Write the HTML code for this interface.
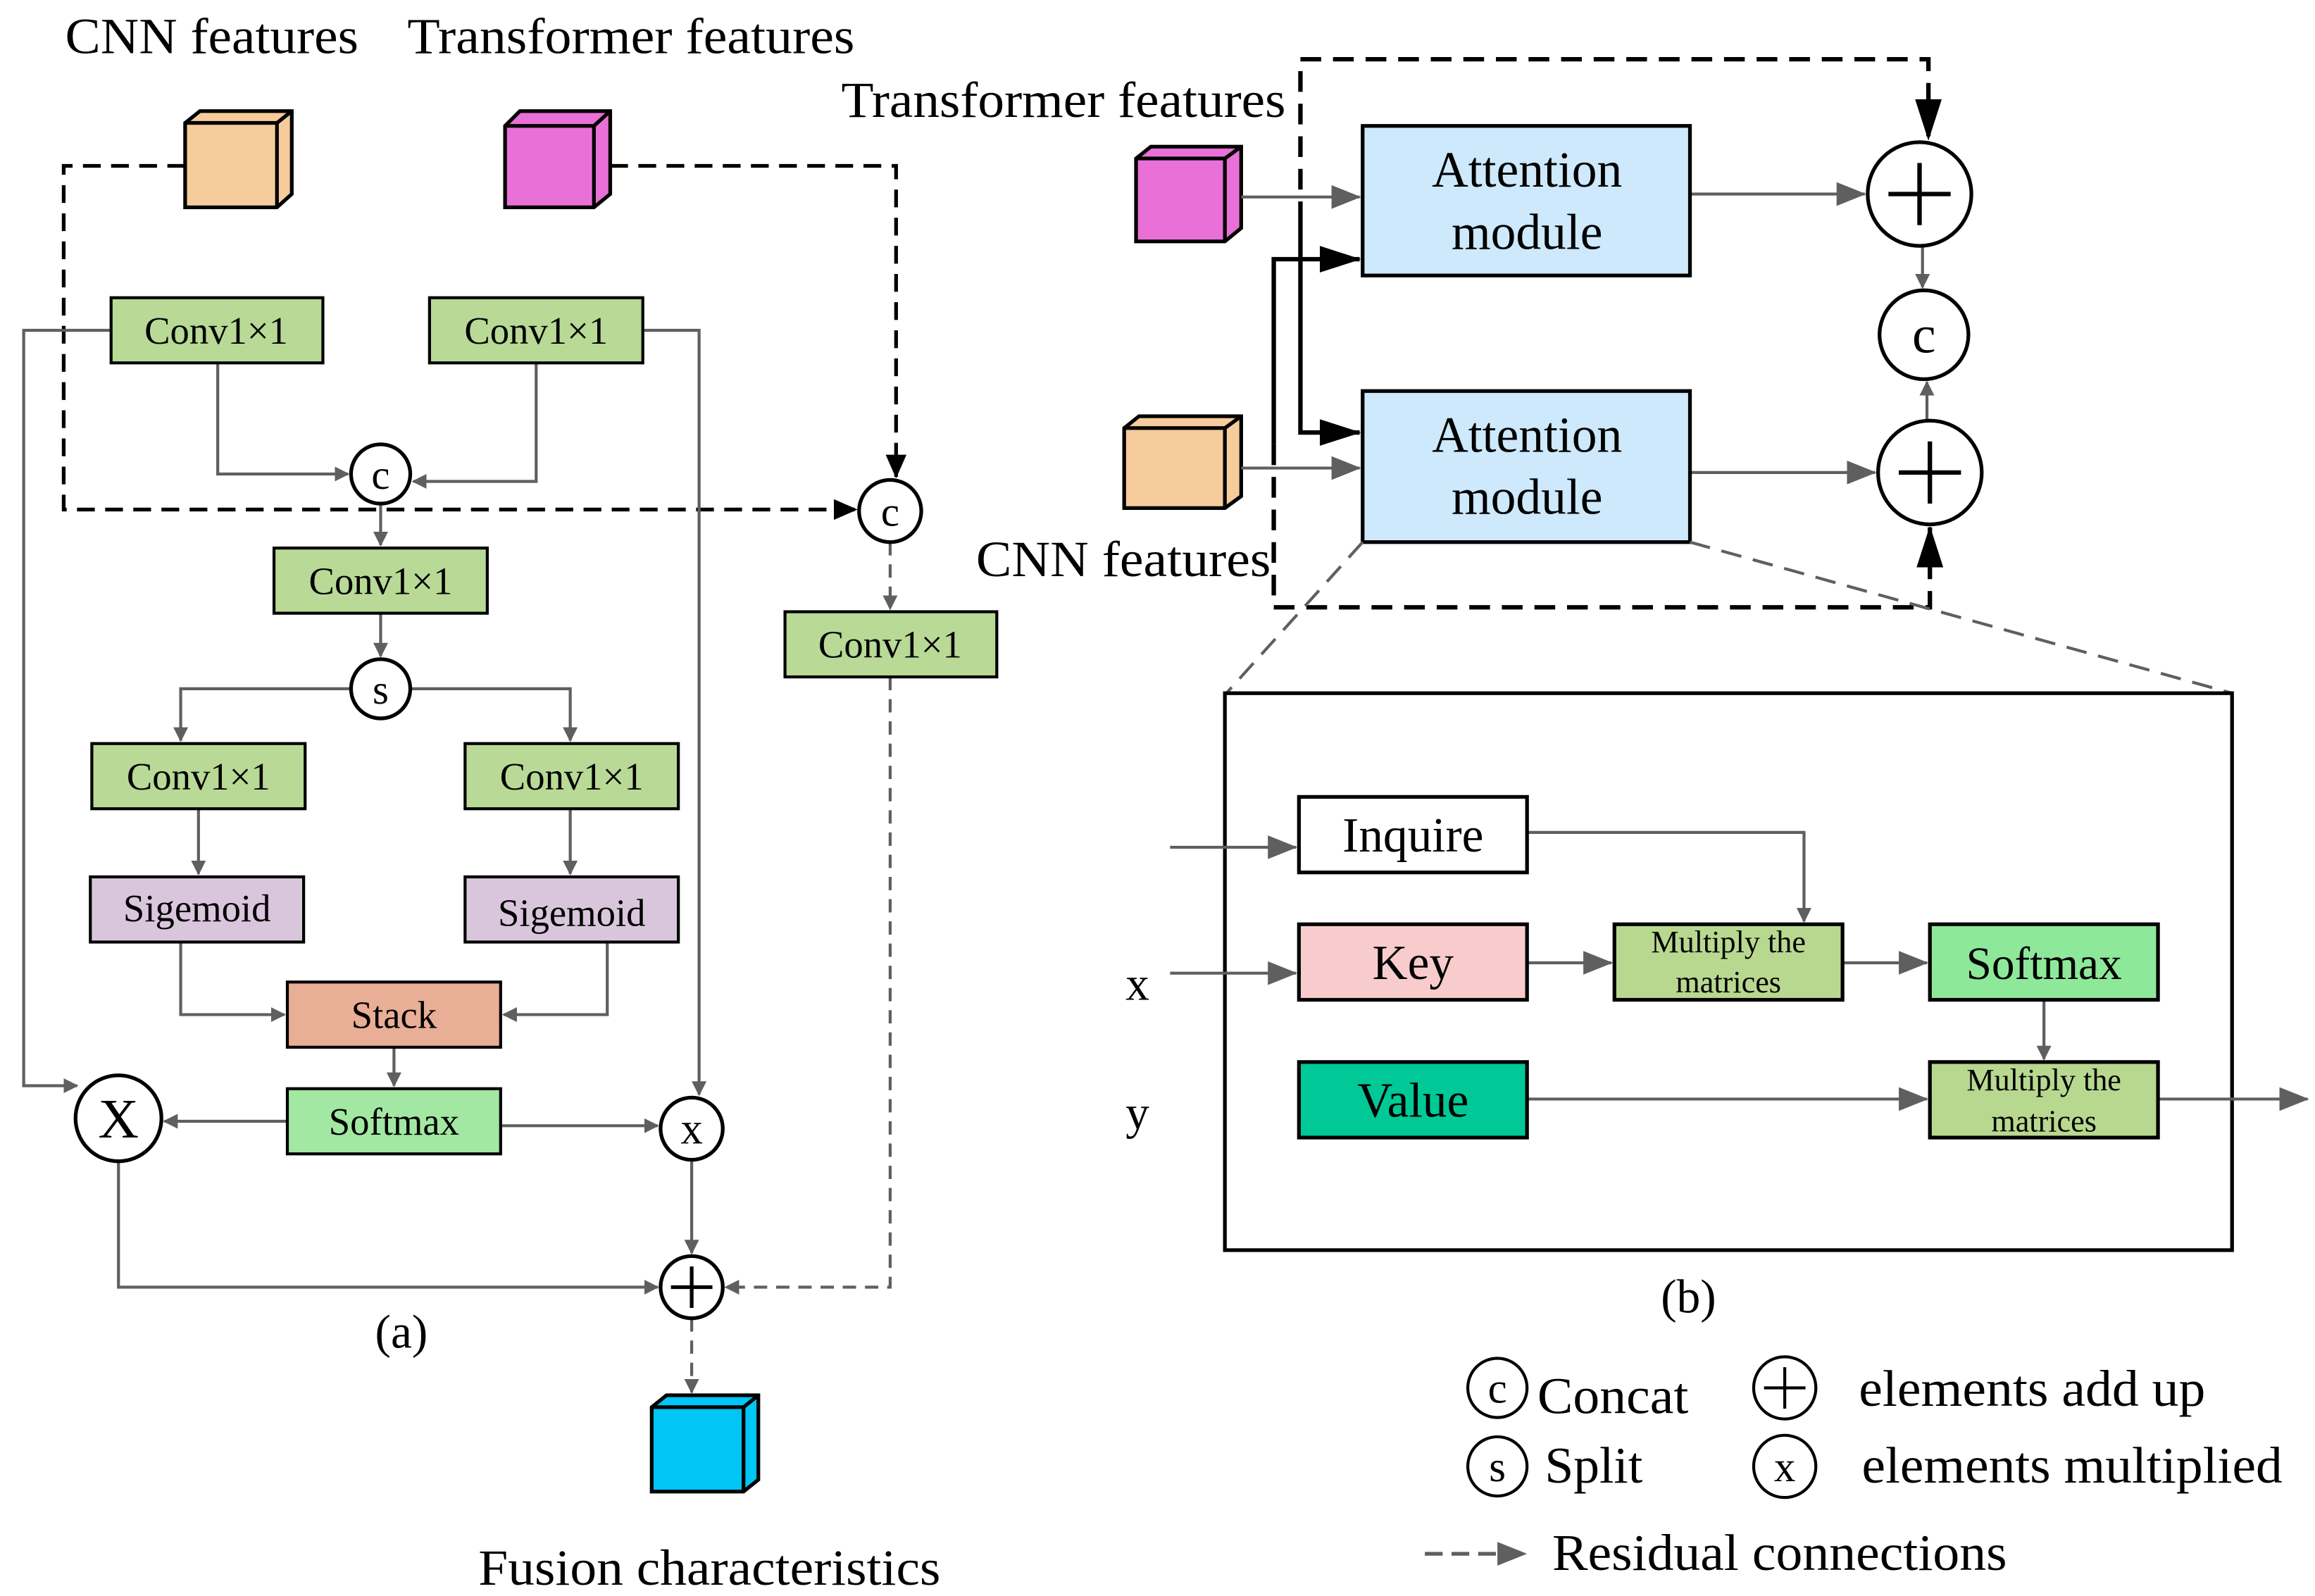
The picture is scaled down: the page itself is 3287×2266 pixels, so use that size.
<!DOCTYPE html>
<html><head><meta charset="utf-8"><style>
html,body{margin:0;padding:0;background:#fff;}
svg{display:block;}
text{font-family:"Liberation Serif",serif;fill:#000;}
</style></head><body>
<svg width="3287" height="2266" viewBox="0 0 1563 1077.5" preserveAspectRatio="none" xmlns="http://www.w3.org/2000/svg">
<defs>
<marker id="g" markerWidth="10" markerHeight="10" refX="9" refY="5" orient="auto" markerUnits="userSpaceOnUse" viewBox="0 0 10 10"><path d="M0,0 L10,5 L0,10 z" fill="#5f5f5f"/></marker>
<marker id="gb" markerWidth="20" markerHeight="16" refX="19" refY="8" orient="auto" markerUnits="userSpaceOnUse" viewBox="0 0 20 16"><path d="M0,0 L20,8 L0,16 z" fill="#5f5f5f"/></marker>
<marker id="k" markerWidth="16" markerHeight="14" refX="15" refY="7" orient="auto" markerUnits="userSpaceOnUse" viewBox="0 0 16 14"><path d="M0,0 L16,7 L0,14 z" fill="#000"/></marker>
<marker id="kb" markerWidth="28" markerHeight="18" refX="27" refY="9" orient="auto" markerUnits="userSpaceOnUse" viewBox="0 0 28 18"><path d="M0,0 L28,9 L0,18 z" fill="#000"/></marker>
</defs>

<text x="44" y="36" font-size="34" textLength="198" lengthAdjust="spacingAndGlyphs">CNN features</text>
<text x="275" y="36" font-size="34" textLength="302" lengthAdjust="spacingAndGlyphs">Transformer features</text>

<g stroke="#000" stroke-width="2.5">
<path d="M125,83 L135,75 L197,75 L197,131 L187,140 L125,140 z" fill="#f6cc9c"/>
<path d="M187,83 L197,75 M125,83 L187,83 L187,140" fill="none"/>
<path d="M341,85 L351,75 L412,75 L412,131 L401,140 L341,140 z" fill="#e870d6"/>
<path d="M401,85 L412,75 M341,85 L401,85 L401,140" fill="none"/>
</g>

<g fill="none" stroke="#000" stroke-width="2.5" stroke-dasharray="12,7">
<path d="M125,112 H43 V344 H578" marker-end="url(#k)"/>
<path d="M412,112 H605 V322" marker-end="url(#k)"/>
</g>

<g fill="none" stroke="#5f5f5f" stroke-width="2">
<path d="M75,223 H16 V733 H52" marker-end="url(#g)"/>
<path d="M147,245 V320 H235" marker-end="url(#g)"/>
<path d="M362,245 V325 H279" marker-end="url(#g)"/>
<path d="M434,223 H472 V739" marker-end="url(#g)"/>
<path d="M257,340 V368" marker-end="url(#g)"/>
<path d="M257,414 V443" marker-end="url(#g)"/>
<path d="M237,465 H122 V500" marker-end="url(#g)"/>
<path d="M277,465 H385 V500" marker-end="url(#g)"/>
<path d="M134,546 V590" marker-end="url(#g)"/>
<path d="M385,546 V590" marker-end="url(#g)"/>
<path d="M122,636 V685 H192" marker-end="url(#g)"/>
<path d="M410,636 V685 H340" marker-end="url(#g)"/>
<path d="M266,707 V733" marker-end="url(#g)"/>
<path d="M194,757 H111" marker-end="url(#g)"/>
<path d="M338,760 H444" marker-end="url(#g)"/>
<path d="M467,783 V846" marker-end="url(#g)"/>
<path d="M80,784 V869 H444" marker-end="url(#g)"/>
</g>
<g fill="none" stroke="#5f5f5f" stroke-width="2" stroke-dasharray="9,6">
<path d="M601,366 V411" marker-end="url(#g)"/>
<path d="M601,457 V869 H490" marker-end="url(#g)"/>
<path d="M467,890 V940" marker-end="url(#g)"/>
</g>

<g stroke="#000" stroke-width="2" font-size="26">
<rect x="75" y="201" width="143" height="44" fill="#b9d996"/>
<rect x="290" y="201" width="144" height="44" fill="#b9d996"/>
<rect x="185" y="370" width="144" height="44" fill="#b9d996"/>
<rect x="62" y="502" width="144" height="44" fill="#b9d996"/>
<rect x="314" y="502" width="144" height="44" fill="#b9d996"/>
<rect x="61" y="592" width="144" height="44" fill="#d9c6dc"/>
<rect x="314" y="592" width="144" height="44" fill="#d9c6dc"/>
<rect x="194" y="663" width="144" height="44" fill="#e9ae96"/>
<rect x="194" y="735" width="144" height="44" fill="#a2e8a2"/>
<rect x="530" y="413" width="143" height="44" fill="#b9d996"/>
</g>
<g font-size="26" text-anchor="middle">
<text x="146" y="232">Conv1×1</text>
<text x="362" y="232">Conv1×1</text>
<text x="257" y="401">Conv1×1</text>
<text x="134" y="533">Conv1×1</text>
<text x="386" y="533">Conv1×1</text>
<text x="133" y="622">Sigemoid</text>
<text x="386" y="625">Sigemoid</text>
<text x="266" y="694">Stack</text>
<text x="266" y="766">Softmax</text>
<text x="601" y="444">Conv1×1</text>
</g>

<g stroke="#000" stroke-width="2.5" fill="#fff">
<circle cx="257" cy="320" r="20"/>
<circle cx="257" cy="465" r="20"/>
<circle cx="601" cy="345" r="21"/>
<circle cx="80" cy="755" r="29"/>
<circle cx="467" cy="762" r="21"/>
<circle cx="467" cy="869" r="21"/>
</g>
<g text-anchor="middle">
<text x="257" y="330" font-size="28">c</text>
<text x="257" y="475" font-size="28">s</text>
<text x="601" y="355" font-size="28">c</text>
<text x="80" y="768" font-size="38">X</text>
<text x="467" y="772" font-size="30">x</text>
</g>
<path d="M467,855 V883 M453,869 H481" stroke="#000" stroke-width="2.5"/>

<g stroke="#000" stroke-width="2.5">
<path d="M440,950 L450,942 L512,942 L512,999 L502,1007 L440,1007 z" fill="#00c5f5"/>
<path d="M502,950 L512,942 M440,950 L502,950 L502,1007" fill="none"/>
</g>
<text x="271" y="910" font-size="32" text-anchor="middle">(a)</text>
<text x="323" y="1070" font-size="34" textLength="312" lengthAdjust="spacingAndGlyphs">Fusion characteristics</text>

<!-- (b) -->
<text x="568" y="79" font-size="34" textLength="300" lengthAdjust="spacingAndGlyphs">Transformer features</text>
<text x="659" y="389" font-size="34" textLength="199" lengthAdjust="spacingAndGlyphs">CNN features</text>
<g stroke="#000" stroke-width="2.5">
<path d="M767,107 L777,99 L838,99 L838,154 L827,163 L767,163 z" fill="#e870d6"/>
<path d="M827,107 L838,99 M767,107 L827,107 L827,163" fill="none"/>
<path d="M759,289 L769,281 L838,281 L838,335 L827,343 L759,343 z" fill="#f6cc9c"/>
<path d="M827,289 L838,281 M759,289 L827,289 L827,343" fill="none"/>
</g>

<g fill="none" stroke="#5f5f5f" stroke-width="2">
<path d="M838,133 H918" marker-end="url(#gb)"/>
<path d="M838,316 H918" marker-end="url(#gb)"/>
<path d="M1141,131 H1259" marker-end="url(#gb)"/>
<path d="M1141,319 H1266" marker-end="url(#gb)"/>
<path d="M1298,166 V194" marker-end="url(#g)"/>
<path d="M1301,284 V258" marker-end="url(#g)"/>
</g>
<g fill="none" stroke="#000" stroke-width="3">
<path d="M878,150 V292 H918" marker-end="url(#kb)"/>
<path d="M860,300 V175 H918" marker-end="url(#kb)"/>
</g>
<g fill="none" stroke="#000" stroke-width="3" stroke-dasharray="14,8">
<path d="M878,150 V40 H1302 V94" marker-end="url(#kb)"/>
<path d="M860,300 V410 H1303 V356" marker-end="url(#kb)"/>
</g>

<g stroke="#000" stroke-width="2.5">
<rect x="920" y="85" width="221" height="101" fill="#cde9fb"/>
<rect x="920" y="264" width="221" height="102" fill="#cde9fb"/>
</g>
<g font-size="34" text-anchor="middle">
<text x="1031" y="126">Attention</text>
<text x="1031" y="168">module</text>
<text x="1031" y="305">Attention</text>
<text x="1031" y="347">module</text>
</g>
<g stroke="#000" stroke-width="2.5" fill="#fff">
<circle cx="1296" cy="131" r="35"/>
<circle cx="1299" cy="226" r="30"/>
<circle cx="1303" cy="319" r="35"/>
</g>
<path d="M1296,110 V152 M1275,131 H1317 M1303,298 V340 M1282,319 H1324" stroke="#000" stroke-width="3"/>
<text x="1299" y="238" font-size="36" text-anchor="middle">c</text>

<g stroke="#5f5f5f" stroke-width="2" stroke-dasharray="14,8">
<path d="M920,366 L828,468"/>
<path d="M1141,366 L1507,468"/>
</g>
<rect x="827" y="468" width="680" height="376" fill="none" stroke="#000" stroke-width="2.5"/>

<g fill="none" stroke="#5f5f5f" stroke-width="2">
<path d="M790,572 H875" marker-end="url(#gb)"/>
<path d="M790,657 H875" marker-end="url(#gb)"/>
<path d="M1031,562 H1218 V622" marker-end="url(#g)"/>
<path d="M1031,650 H1088" marker-end="url(#gb)"/>
<path d="M1244,650 H1301" marker-end="url(#gb)"/>
<path d="M1380,675 V715" marker-end="url(#g)"/>
<path d="M1031,742 H1301" marker-end="url(#gb)"/>
<path d="M1457,742 H1558" marker-end="url(#gb)"/>
</g>
<g stroke="#000" stroke-width="2.5">
<rect x="877" y="538" width="154" height="51" fill="#fff"/>
<rect x="877" y="624" width="154" height="51" fill="#f8cccc"/>
<rect x="877" y="717" width="154" height="51" fill="#00c896"/>
<rect x="1090" y="624" width="154" height="51" fill="#b8d890"/>
<rect x="1303" y="624" width="154" height="51" fill="#8ee89a"/>
<rect x="1303" y="717" width="154" height="51" fill="#b8d890"/>
</g>
<g text-anchor="middle">
<text x="954" y="575" font-size="33">Inquire</text>
<text x="954" y="661" font-size="33">Key</text>
<text x="954" y="754" font-size="33">Value</text>
<text x="1380" y="661" font-size="31">Softmax</text>
<text x="1167" y="643" font-size="21">Multiply the</text>
<text x="1167" y="670" font-size="21">matrices</text>
<text x="1380" y="736" font-size="21">Multiply the</text>
<text x="1380" y="764" font-size="21">matrices</text>
</g>
<text x="768" y="675" font-size="32" text-anchor="middle">x</text>
<text x="768" y="762" font-size="32" text-anchor="middle">y</text>
<text x="1140" y="886" font-size="32" text-anchor="middle">(b)</text>

<g stroke="#000" stroke-width="2" fill="#fff">
<circle cx="1011" cy="937" r="20"/>
<circle cx="1205" cy="937" r="21"/>
<circle cx="1011" cy="990" r="20"/>
<circle cx="1205" cy="990" r="21"/>
</g>
<path d="M1205,923 V951 M1191,937 H1219" stroke="#000" stroke-width="2"/>
<g text-anchor="middle" font-size="29">
<text x="1011" y="947">c</text>
<text x="1011" y="1000">s</text>
<text x="1205" y="1000">x</text>
</g>
<g font-size="35">
<text x="1038" y="954" textLength="102" lengthAdjust="spacingAndGlyphs">Concat</text>
<text x="1255" y="949" textLength="234" lengthAdjust="spacingAndGlyphs">elements add up</text>
<text x="1043" y="1001" textLength="66" lengthAdjust="spacingAndGlyphs">Split</text>
<text x="1257" y="1001" textLength="284" lengthAdjust="spacingAndGlyphs">elements multiplied</text>
<text x="1048" y="1060" textLength="307" lengthAdjust="spacingAndGlyphs">Residual connections</text>
</g>
<path d="M962,1049 H1030" fill="none" stroke="#5f5f5f" stroke-width="2.5" stroke-dasharray="12,6" marker-end="url(#gb)"/>
</svg>
</body></html>
